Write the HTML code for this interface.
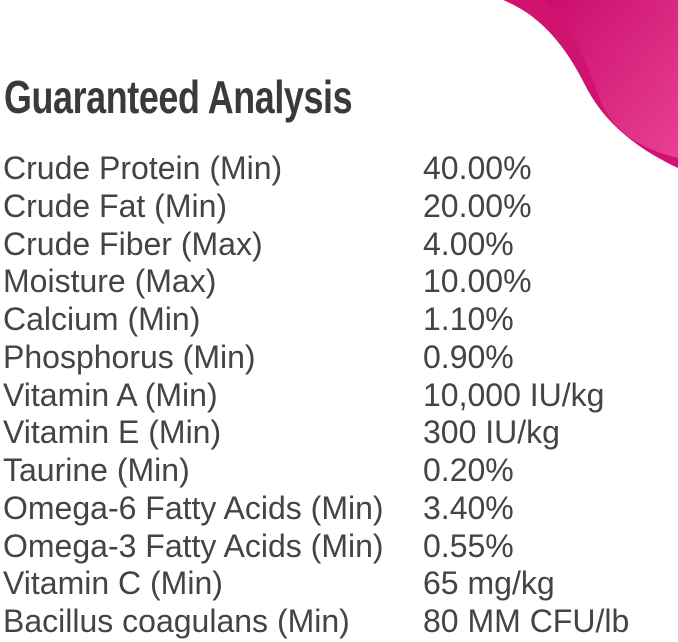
<!DOCTYPE html>
<html><head><style>
body{margin:0;width:678px;height:642px;background:#fff;overflow:hidden;position:relative;font-family:"Liberation Sans",sans-serif;color:#444}
.t{position:absolute;left:4px;top:70px;font-size:46px;font-weight:bold;transform:scaleX(0.78);transform-origin:left top;letter-spacing:-0.5px;color:#3a3a3a}
.r{position:absolute;left:3px;font-size:32px;line-height:37px;white-space:nowrap}
.v{position:absolute;left:423px;font-size:32px;line-height:37px;white-space:nowrap}
</style></head><body>
<svg width="678" height="642" style="position:absolute;left:0;top:0">
<defs><linearGradient id="g" x1="0" y1="0" x2="1" y2="1"><stop offset="0" stop-color="#c80a6e"/><stop offset="1" stop-color="#ee4c9a"/></linearGradient></defs>
<path d="M503,0 C540,15 565,45 585,85 C605,125 640,150 678,168 L678,0 Z" fill="#d0136f"/>
<path d="M545,0 C575,30 590,70 600,100 C615,135 645,150 678,158 L678,0 Z" fill="url(#g)" opacity="0.8"/>
</svg>
<div class="t">Guaranteed Analysis</div>
<div id="rows"></div>
<script>
const d=[["Crude Protein (Min)","40.00%"],["Crude Fat (Min)","20.00%"],["Crude Fiber (Max)","4.00%"],["Moisture (Max)","10.00%"],["Calcium (Min)","1.10%"],["Phosphorus (Min)","0.90%"],["Vitamin A (Min)","10,000 IU/kg"],["Vitamin E (Min)","300 IU/kg"],["Taurine (Min)","0.20%"],["Omega-6 Fatty Acids (Min)","3.40%"],["Omega-3 Fatty Acids (Min)","0.55%"],["Vitamin C (Min)","65 mg/kg"],["Bacillus coagulans (Min)","80 MM CFU/lb"]];
let h="";d.forEach((r,i)=>{const y=150+i*37.75;h+=`<div class="r" style="top:${y}px">${r[0]}</div><div class="v" style="top:${y}px">${r[1]}</div>`});
document.getElementById("rows").innerHTML=h;
</script>
</body></html>
